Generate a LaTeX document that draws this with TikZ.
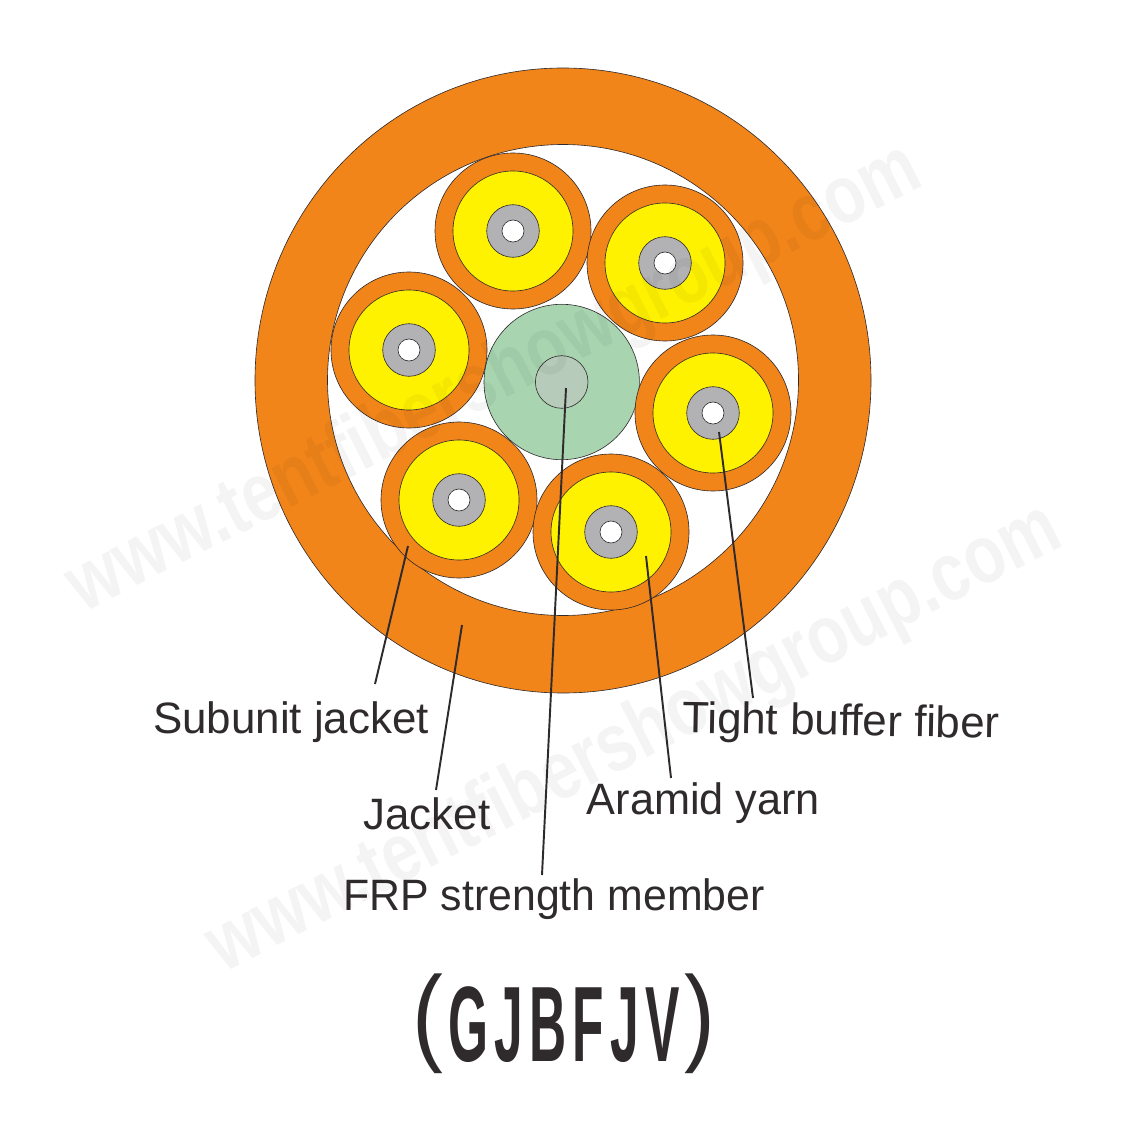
\documentclass[tikz,border=0pt]{standalone}
\usepackage{fontspec}
\setmainfont{Liberation Sans}
\definecolor{jacketorange}{HTML}{F2851A}
\definecolor{aramidyellow}{HTML}{FFF200}
\definecolor{bufferedge}{HTML}{B2B2B4}
\definecolor{frpgreen}{HTML}{A8D5B0}
\definecolor{frpcore}{HTML}{B6CBBA}
\definecolor{inkdark}{HTML}{2F2A2B}
\newcommand{\titleparen}[1]{\raisebox{5.7pt}{\mdseries\scalebox{1.8}[1]{#1}}}
\tikzset{
  part/.style={draw=inkdark, line width=0.35pt},
  leader/.style={draw=inkdark, line width=1.1pt},
  partlabel/.style={text=inkdark, font=\fontsize{25}{25}\selectfont, inner sep=0pt},
  watermark/.style={text=black, opacity=0.045, text opacity=0.045, rotate=27, inner sep=0pt,
    font=\fontsize{47}{47}\selectfont\bfseries}
}
\begin{document}
\begin{tikzpicture}[x=0.02cm, y=-0.02cm]
  \useasboundingbox (0,0) rectangle (1128,1128);
  % Outer jacket ring
  \path[part, fill=jacketorange, even odd rule] (563,380.5) ellipse (308 and 312.5)
    (563,380) circle (235.5);
  % Central strength member
  \draw[part, fill=frpgreen] (561.7,382) circle (77.7);
  \draw[part, fill=frpcore] (561.7,382) circle (26.3);
  % Six subunits round the centre
  \foreach \x/\y in {513/231, 665/263, 409/350, 713/413, 459/500, 611/532}{
    \draw[part, fill=jacketorange] (\x,\y) circle (78);
    \draw[part, fill=aramidyellow] (\x,\y) circle (60);
    \draw[part, fill=bufferedge] (\x,\y) circle (26.3);
    \draw[part, fill=white] (\x,\y) circle (11);
  }
  % Labels
  \node[partlabel] (subunit) at (291,722) {Subunit jacket};
  \node[partlabel] (jacket) at (427,814) {Jacket};
  \node[partlabel] (frp) at (554,899.5) {\scalebox{0.975}[1]{FRP strength member}};
  \node[partlabel] (aramid) at (703.5,803) {\scalebox{0.985}[1]{Aramid yarn}};
  \node[partlabel, rotate=-1] (tight) at (841,724) {Tight buffer fiber};
  % Leader ends
  \coordinate (subunit tip) at (408,546);
  \coordinate (subunit end) at (375,684);
  \coordinate (jacket tip) at (462,625);
  \coordinate (jacket end) at (436,790);
  \coordinate (frp tip) at (566,388);
  \coordinate (frp end) at (542,875);
  \coordinate (aramid tip) at (646,556);
  \coordinate (aramid end) at (671,778);
  \coordinate (tight tip) at (719,432);
  \coordinate (tight end) at (753,698);
  \foreach \n in {subunit, jacket, frp, aramid, tight}{
    \draw[leader] (\n\space tip) -- (\n\space end);
  }
  % Cable type
  \node[text=inkdark, inner sep=0pt, font=\fontsize{61}{61}\selectfont\bfseries] (cabletype) at (564,1024)
    {\scalebox{0.48}[1]{\addfontfeature{LetterSpace=12}\titleparen{(}\hspace{6pt}GJBFJV\hspace{6pt}\titleparen{)}}};
  % Watermarks
  \node[watermark] (mark one) at (495,380) {\scalebox{0.8}[1]{www.tentfibershowgroup.com}};
  \node[watermark] (mark two) at (635,740) {\scalebox{0.8}[1]{www.tentfibershowgroup.com}};
\end{tikzpicture}
\end{document}
